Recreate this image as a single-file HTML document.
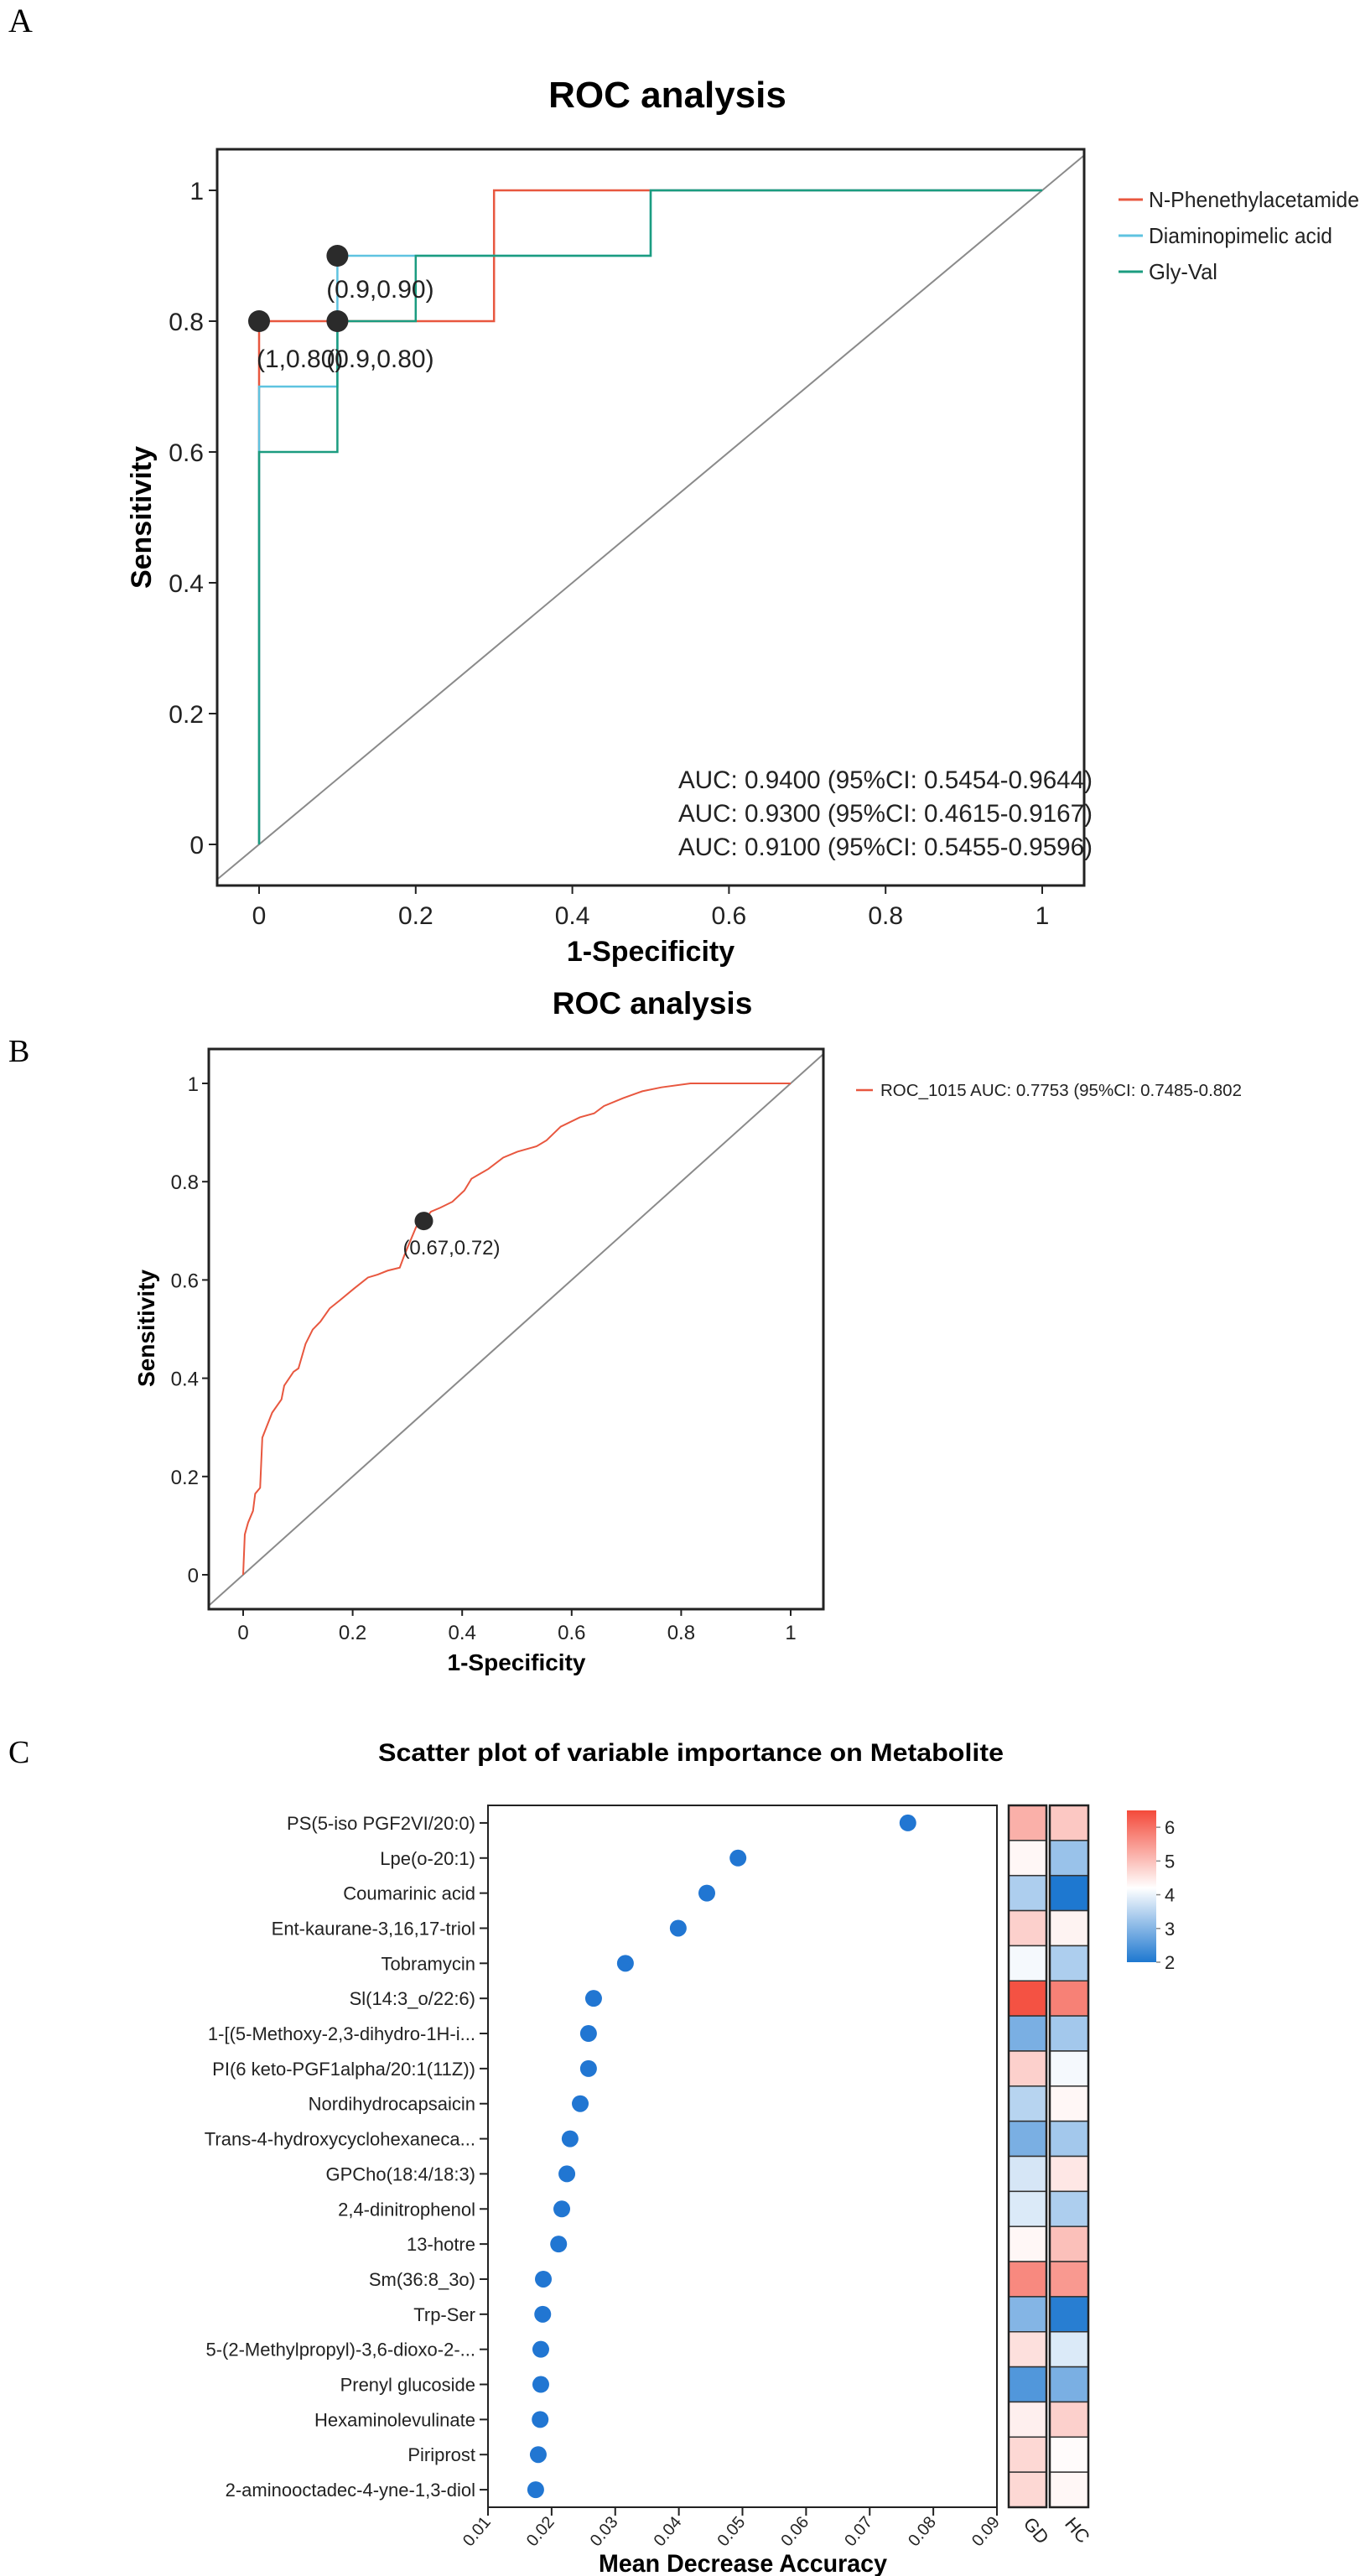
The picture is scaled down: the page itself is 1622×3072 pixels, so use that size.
<!DOCTYPE html>
<html><head><meta charset="utf-8">
<style>
html,body{margin:0;padding:0;background:#fff;}
svg{display:block;font-family:"Liberation Sans",Arial,sans-serif;}
.serif{font-family:"Liberation Serif",serif;}
</style></head>
<body>
<svg id="fig" width="1622" height="3072" viewBox="0 0 1622 3072" xmlns="http://www.w3.org/2000/svg">
<text class="serif" x="10" y="38" font-size="40">A</text>
<text class="serif" x="10" y="1266" font-size="38">B</text>
<text class="serif" x="10" y="2102" font-size="38">C</text>
</svg>
<script>
// ---------- Panel A data ----------
const aSeriesNames = ["N-Phenethylacetamide","Diaminopimelic acid","Gly-Val"];
const aColors = ["#e8573f","#5fc3e0","#1b9c80"];
const aRedX = [0,0,0.3,0.3,1];
const aRedY = [0,0.8,0.8,1,1];
const aCyanX = [0,0,0.1,0.1,0.5,0.5,1];
const aCyanY = [0,0.7,0.7,0.9,0.9,1,1];
const aGreenX = [0,0,0.1,0.1,0.2,0.2,0.5,0.5,1];
const aGreenY = [0,0.6,0.6,0.8,0.8,0.9,0.9,1,1];
const aPointX = [0,0.1,0.1];
const aPointY = [0.8,0.8,0.9];
const aPointLabels = ["(1,0.80)","(0.9,0.80)","(0.9,0.90)"];
const aTicks = [0,0.2,0.4,0.6,0.8,1];
const aTickLabels = ["0","0.2","0.4","0.6","0.8","1"];
const aAucLabels = ["AUC: 0.9400 (95%CI: 0.5454-0.9644)","AUC: 0.9300 (95%CI: 0.4615-0.9167)","AUC: 0.9100 (95%CI: 0.5455-0.9596)"];
// ---------- Panel B data ----------
const bX = [0,0.003,0.009,0.018,0.022,0.031,0.035,0.053,0.070,0.075,0.092,0.101,0.114,0.127,0.141,0.158,0.176,0.202,0.228,0.246,0.264,0.286,0.294,0.301,0.316,0.33,0.343,0.36,0.382,0.404,0.417,0.431,0.448,0.475,0.501,0.536,0.554,0.58,0.615,0.641,0.659,0.694,0.729,0.764,0.817,1];
const bY = [0,0.082,0.106,0.13,0.165,0.177,0.279,0.33,0.357,0.385,0.413,0.42,0.47,0.499,0.515,0.542,0.558,0.582,0.605,0.611,0.619,0.625,0.649,0.668,0.708,0.72,0.739,0.747,0.759,0.782,0.806,0.815,0.826,0.849,0.861,0.872,0.884,0.912,0.931,0.939,0.954,0.97,0.984,0.992,1,1];
const bPointX = [0.33];
const bPointY = [0.72];
const bPointLabels = ["(0.67,0.72)"];
const bLegend = "ROC_1015 AUC: 0.7753 (95%CI: 0.7485-0.802";
// ---------- Panel C data ----------
const cNames = ["PS(5-iso PGF2VI/20:0)","Lpe(o-20:1)","Coumarinic acid","Ent-kaurane-3,16,17-triol","Tobramycin","Sl(14:3_o/22:6)","1-[(5-Methoxy-2,3-dihydro-1H-i...","PI(6 keto-PGF1alpha/20:1(11Z))","Nordihydrocapsaicin","Trans-4-hydroxycyclohexaneca...","GPCho(18:4/18:3)","2,4-dinitrophenol","13-hotre","Sm(36:8_3o)","Trp-Ser","5-(2-Methylpropyl)-3,6-dioxo-2-...","Prenyl glucoside","Hexaminolevulinate","Piriprost","2-aminooctadec-4-yne-1,3-diol"];
const cValues = [0.0760,0.0493,0.0444,0.0399,0.0316,0.0266,0.0258,0.0258,0.0245,0.0229,0.0224,0.0216,0.0211,0.0187,0.0186,0.0183,0.0183,0.0182,0.0179,0.0175];
const cGD = [5.2,4.3,3.4,4.8,4.1,6.4,2.9,4.8,3.5,2.9,3.8,3.85,4.3,5.7,3.0,4.6,2.5,4.4,4.7,4.7];
const cHC = [4.9,3.2,2.0,4.35,3.4,5.8,3.3,4.1,4.3,3.3,4.5,3.4,5.0,5.5,2.1,3.85,2.9,4.8,4.25,4.3];
const cXTicks = [0.01,0.02,0.03,0.04,0.05,0.06,0.07,0.08,0.09];
const cXTickLabels = ["0.01","0.02","0.03","0.04","0.05","0.06","0.07","0.08","0.09"];
const cBarTicks = [2,3,4,5,6];
const cBarLabels = ["2","3","4","5","6"];
const cGroups = ["GD","HC"];

const svg = document.getElementById('fig');
const NS = "http://www.w3.org/2000/svg";
function mk(tag, attrs, parent){
  const e = document.createElementNS(NS, tag);
  for (const k in attrs) e.setAttribute(k, attrs[k]);
  (parent||svg).appendChild(e);
  return e;
}
function txt(s, attrs, name){
  const t = mk('text', attrs);
  t.textContent = s;
  
  
  return t;
}

// ================= PANEL A =================
(function(){
  const X0=309, UX=934, Y0=1007, UY=780;
  const L=259,R=1293,T=178,B=1056;
  const sx=v=>X0+v*UX, sy=v=>Y0-v*UY;
  txt("ROC analysis",{x:796,y:128,'font-size':44,'font-weight':'bold','text-anchor':'middle'},'panel-a-title');
  const clip = mk('clipPath',{id:'clipA'}); mk('rect',{x:L,y:T,width:R-L,height:B-T},clip);
  const diag = mk('line',{x1:L,y1:Y0-(L-X0)/UX*UY,x2:R,y2:Y0-(R-X0)/UX*UY,stroke:'#8a8a8a','stroke-width':2,'clip-path':'url(#clipA)'});
  
  
  const series=[[aRedX,aRedY],[aCyanX,aCyanY],[aGreenX,aGreenY]];
  [0,1,2].forEach(i=>{
    const xs=series[i][0], ys=series[i][1];
    const p = mk('polyline',{points:xs.map((x,j)=>sx(x)+','+sy(ys[j])).join(' '),fill:'none',stroke:aColors[i],'stroke-width':2.5});
    
    
  });
  const frame = mk('rect',{x:L,y:T,width:R-L,height:B-T,fill:'none',stroke:'#222','stroke-width':3});
  
  
  aTicks.forEach((v,i)=>{
    const ty = mk('line',{x1:L-10,y1:sy(v),x2:L,y2:sy(v),stroke:'#222','stroke-width':2});
    
    
    txt(aTickLabels[i],{x:L-16,y:sy(v)+11,'font-size':30,'text-anchor':'end',fill:'#222'},'y-tick-label');
    const tx = mk('line',{x1:sx(v),y1:B,x2:sx(v),y2:B+10,stroke:'#222','stroke-width':2});
    
    
    txt(aTickLabels[i],{x:sx(v),y:B+46,'font-size':30,'text-anchor':'middle',fill:'#222'},'x-tick-label');
  });
  txt("1-Specificity",{x:776,y:1146,'font-size':34,'font-weight':'bold','text-anchor':'middle'},'x-axis-title');
  txt("Sensitivity",{x:180,y:617,'font-size':34,'font-weight':'bold','text-anchor':'middle',transform:'rotate(-90 180 617)'},'y-axis-title');
  aPointX.forEach((x,i)=>{
    const c = mk('circle',{cx:sx(x),cy:sy(aPointY[i]),r:13,fill:'#2b2b2b'});
    
    
  });
  txt(aPointLabels[0],{x:sx(aPointX[0])-3,y:sy(aPointY[0])+55,'font-size':30,fill:'#222'},'cutoff-label');
  txt(aPointLabels[1],{x:sx(aPointX[1])+51,y:sy(aPointY[1])+55,'font-size':30,'text-anchor':'middle',fill:'#222'},'cutoff-label');
  txt(aPointLabels[2],{x:sx(aPointX[2])+51,y:sy(aPointY[2])+50,'font-size':30,'text-anchor':'middle',fill:'#222'},'cutoff-label');
  aAucLabels.forEach((s,i)=>{
    txt(s,{x:809,y:940+i*40,'font-size':30,fill:'#222',textLength:494,lengthAdjust:'spacingAndGlyphs'},'auc-annotation');
  });
  const legW=[251,219,82];
  aSeriesNames.forEach((n,i)=>{
    const y=238+i*43;
    const ln = mk('line',{x1:1334,y1:y,x2:1363,y2:y,stroke:aColors[i],'stroke-width':3});
    
    
    txt(n,{x:1370,y:y+9,'font-size':26,fill:'#222',textLength:legW[i],lengthAdjust:'spacingAndGlyphs'},'legend-entry');
  });
})();

// ================= PANEL B =================
(function(){
  const X0=290, UX=653, Y0=1878, UY=586;
  const L=249,R=982,T=1251,B=1919;
  const sx=v=>X0+v*UX, sy=v=>Y0-v*UY;
  txt("ROC analysis",{x:778,y:1209,'font-size':37,'font-weight':'bold','text-anchor':'middle'},'panel-b-title');
  const clip = mk('clipPath',{id:'clipB'}); mk('rect',{x:L,y:T,width:R-L,height:B-T},clip);
  const diag = mk('line',{x1:L,y1:Y0-(L-X0)/UX*UY,x2:R,y2:Y0-(R-X0)/UX*UY,stroke:'#8a8a8a','stroke-width':2,'clip-path':'url(#clipB)'});
  
  
  const p = mk('polyline',{points:bX.map((x,j)=>sx(x)+','+sy(bY[j])).join(' '),fill:'none',stroke:'#e8573f','stroke-width':2});
  
  
  const frame = mk('rect',{x:L,y:T,width:R-L,height:B-T,fill:'none',stroke:'#222','stroke-width':3});
  
  
  aTicks.forEach((v,i)=>{
    const ty = mk('line',{x1:L-8,y1:sy(v),x2:L,y2:sy(v),stroke:'#222','stroke-width':2});
    
    
    txt(aTickLabels[i],{x:L-12,y:sy(v)+9,'font-size':24,'text-anchor':'end',fill:'#222'},'y-tick-label');
    const tx = mk('line',{x1:sx(v),y1:B,x2:sx(v),y2:B+8,stroke:'#222','stroke-width':2});
    
    
    txt(aTickLabels[i],{x:sx(v),y:B+36,'font-size':24,'text-anchor':'middle',fill:'#222'},'x-tick-label');
  });
  txt("1-Specificity",{x:616,y:1992,'font-size':28,'font-weight':'bold','text-anchor':'middle'},'x-axis-title');
  txt("Sensitivity",{x:184,y:1584,'font-size':28,'font-weight':'bold','text-anchor':'middle',transform:'rotate(-90 184 1584)'},'y-axis-title');
  bPointX.forEach((x,i)=>{
    const c = mk('circle',{cx:sx(x),cy:sy(bPointY[i]),r:11,fill:'#2b2b2b'});
    
    
    txt(bPointLabels[i],{x:sx(x)+33,y:sy(bPointY[i])+40,'font-size':24,'text-anchor':'middle',fill:'#222'},'cutoff-label');
  });
  const ln = mk('line',{x1:1021,y1:1300,x2:1041,y2:1300,stroke:'#e8573f','stroke-width':2.5});
  
  
  txt(bLegend,{x:1050,y:1307,'font-size':20,fill:'#222',textLength:431,lengthAdjust:'spacingAndGlyphs'},'legend-entry');
})();

// ================= PANEL C =================
(function(){
  const L=582,R=1189,T=2153,B=2990;
  const XMIN=0.01, XMAX=0.09;
  const sx=v=>L+(v-XMIN)/(XMAX-XMIN)*(R-L);
  const rowH=(B-T)/cNames.length;
  const sy=i=>T+rowH*(i+0.5);
  txt("Scatter plot of variable importance on Metabolite",{x:824,y:2100,'font-size':30,'font-weight':'bold','text-anchor':'middle',textLength:746,lengthAdjust:'spacingAndGlyphs'},'panel-c-title');
  const frame = mk('rect',{x:L,y:T,width:R-L,height:B-T,fill:'none',stroke:'#222','stroke-width':2});
  
  
  cNames.forEach((n,i)=>{
    const t = mk('line',{x1:L-10,y1:sy(i),x2:L,y2:sy(i),stroke:'#222','stroke-width':2});
    
    
    txt(n,{x:L-15,y:sy(i)+8,'font-size':22,'text-anchor':'end',fill:'#222'},'metabolite-label');
    const c = mk('circle',{cx:sx(cValues[i]),cy:sy(i),r:10,fill:'#2176d2'});
    
    
  });
  cXTicks.forEach((v,i)=>{
    const t = mk('line',{x1:sx(v),y1:B,x2:sx(v),y2:B+10,stroke:'#222','stroke-width':2});
    
    
    const x=sx(v)+4, y=B+18;
    txt(cXTickLabels[i],{x:x,y:y,'font-size':20,'text-anchor':'end',fill:'#222',transform:'rotate(-50 '+x+' '+y+')'},'x-tick-label');
  });
  txt("Mean Decrease Accuracy",{x:886,y:3067,'font-size':30,'font-weight':'bold','text-anchor':'middle',textLength:344,lengthAdjust:'spacingAndGlyphs'},'x-axis-title');

  const VMIN=2, VMID=4.2, VMAX=6.5;
  const blue=[30,120,208], white=[255,255,255], red=[244,74,58];
  function col(v){
    let a,b,t;
    if(v<=VMID){a=blue;b=white;t=(v-VMIN)/(VMID-VMIN);} else {a=white;b=red;t=(v-VMID)/(VMAX-VMID);}
    t=Math.max(0,Math.min(1,t));
    return 'rgb('+a.map((c,k)=>Math.round(c+(b[k]-c)*t)).join(',')+')';
  }
  const cols=[[1203,1248],[1252,1298]];
  [cGD,cHC].forEach((arr,g)=>{
    arr.forEach((v,i)=>{
      const r = mk('rect',{x:cols[g][0],y:T+rowH*i,width:cols[g][1]-cols[g][0],height:rowH,fill:col(v),stroke:'#333','stroke-width':1.5});
      
      
    });
    const fr = mk('rect',{x:cols[g][0],y:T,width:cols[g][1]-cols[g][0],height:B-T,fill:'none',stroke:'#222','stroke-width':2.5});
    
    
    const cx=(cols[g][0]+cols[g][1])/2-6, cy=B+20;
    txt(cGroups[g],{x:cx,y:cy,'font-size':22,fill:'#222',transform:'rotate(50 '+cx+' '+cy+')'},'heatmap-group-label');
  });
  const CB_T=2159, CB_B=2340, CB_L=1344, CB_R=1379;
  const cy=v=>CB_B-(v-VMIN)/(VMAX-VMIN)*(CB_B-CB_T);
  const defs = mk('defs',{});
  const grad = mk('linearGradient',{id:'cbGrad',x1:0,y1:1,x2:0,y2:0},defs);
  [VMIN,3,VMID,5,6,VMAX].forEach(v=>{mk('stop',{offset:(v-VMIN)/(VMAX-VMIN),'stop-color':col(v)},grad);});
  const cb = mk('rect',{x:CB_L,y:CB_T,width:CB_R-CB_L,height:CB_B-CB_T,fill:'url(#cbGrad)'});
  
  
  cBarTicks.forEach((v,i)=>{
    const t = mk('line',{x1:CB_R,y1:cy(v),x2:CB_R+5,y2:cy(v),stroke:'#888','stroke-width':1.5});
    
    
    txt(cBarLabels[i],{x:CB_R+10,y:cy(v)+8,'font-size':22,fill:'#222'},'colorbar-label');
  });
})();
</script>
</body></html>
